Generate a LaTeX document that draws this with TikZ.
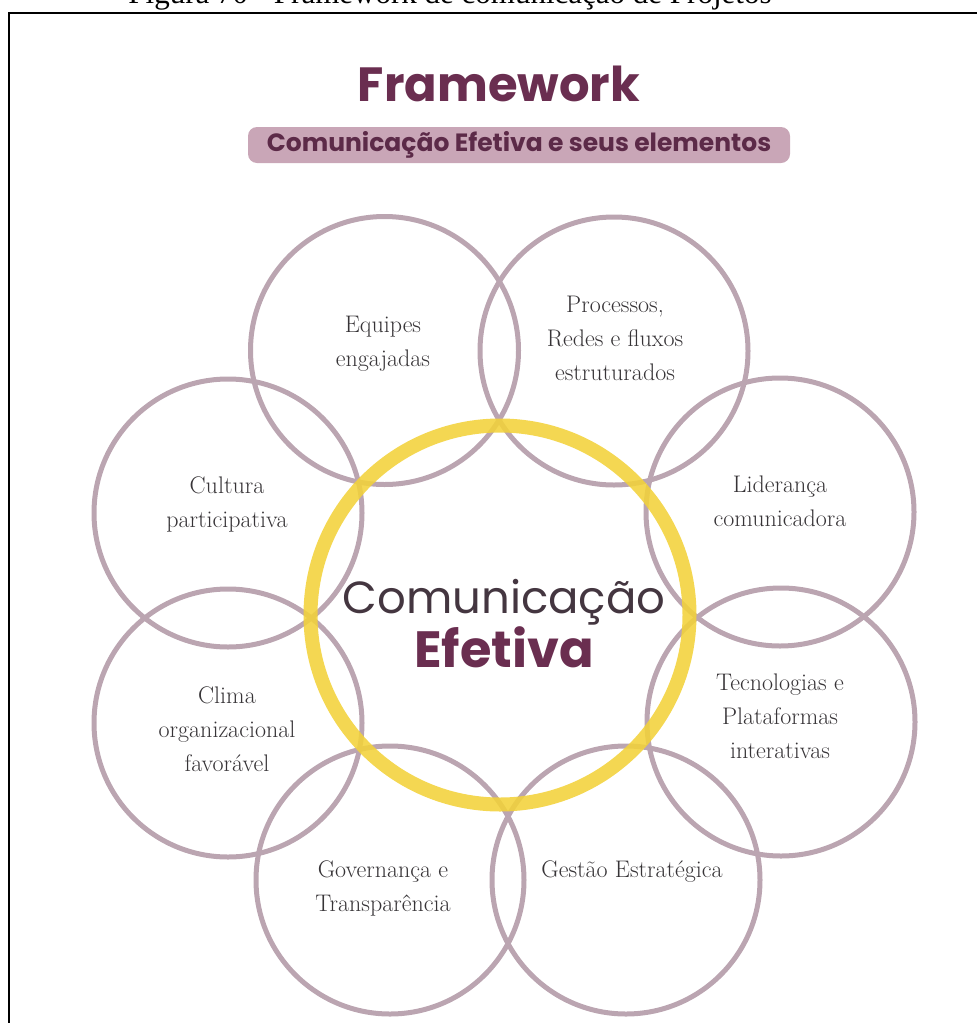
\documentclass[tikz,border=0pt]{standalone}
\usepackage{fontspec}
\newfontfamily\pop{Poppins}
\newfontfamily\capfont{Liberation Serif}
\definecolor{plum}{RGB}{106,46,80}
\definecolor{boxtxt}{RGB}{92,42,72}
\definecolor{ringc}{RGB}{187,165,177}
\definecolor{goldc}{RGB}{242,210,58}
\definecolor{boxc}{RGB}{201,166,183}
\definecolor{txtc}{RGB}{55,52,55}
\definecolor{comc}{RGB}{68,54,64}
\newcommand{\lines}[1]{\begin{tabular}[t]{@{}c@{}}#1\end{tabular}}
\begin{document}
\begin{tikzpicture}[x=1pt,y=-1pt,
  ring/.style={circle, draw=ringc, line width=5pt, minimum size=268pt, inner sep=0pt},
  lbl/.style={anchor=base, inner sep=0pt, text=txtc, font=\fontsize{24}{34}\selectfont},
]
\useasboundingbox (0,0) rectangle (977,1023);
\clip (0,0) rectangle (977,1023);
% caption (cut at the top)
\node[anchor=base, inner sep=0pt, font=\capfont\fontsize{31}{31}\selectfont] (cap) at (450,3) {Figura 70 - Framework de comunicação de Projetos};
% frame
\draw[line width=2pt] (9,1040) -- (9,12.5) -- (995,12.5);
% title
\node[anchor=base, inner sep=0pt, text=plum, font=\pop\bfseries\fontsize{48}{48}\selectfont] (title) at (499,101) {Framework};
\node[fill=boxc, rounded corners=9pt, minimum width=542pt, minimum height=36pt, inner sep=0pt,
      text=boxtxt, font=\pop\bfseries\fontsize{25}{25}\selectfont] (sub) at (519,145) {Comunicação Efetiva e seus elementos};
% outer circles
\node[ring] (c1) at (384.5,350.5) {};
\node[ring] (c2) at (614,351) {};
\node[ring] (c3) at (780,512) {};
\node[ring] (c4) at (781,722) {};
\node[ring] (c5) at (626,880) {};
\node[ring] (c6) at (390,880) {};
\node[ring] (c7) at (228,723) {};
\node[ring] (c8) at (228,513) {};
% central ring
\node[circle, draw=goldc, draw opacity=0.88, line width=14pt, minimum size=379pt, inner sep=0pt] (core) at (500,615) {};
% central text
\node[anchor=base, inner sep=0pt, text=comc, font=\pop\fontsize{45}{45}\selectfont] (com) at (504,613) {Comunicação};
\node[anchor=base, inner sep=0pt, text=plum, font=\pop\bfseries\fontsize{51}{51}\selectfont] (efe) at (504,667) {Efetiva};
% labels
\node[lbl] (t1) at (383,332) {\lines{Equipes\\engajadas}};
\node[lbl] (t2) at (615,312) {\lines{Processos,\\Redes e fluxos\\estruturados}};
\node[lbl] (t3) at (780,492) {\lines{Liderança\\comunicadora}};
\node[lbl] (t4) at (780,690) {\lines{Tecnologias e\\Plataformas\\interativas}};
\node[lbl] (t5) at (632,877) {Gestão Estratégica};
\node[lbl] (t6) at (383,877) {\lines{Governança e\\Transparência}};
\node[lbl] (t7) at (227,703) {\lines{Clima\\organizacional\\favorável}};
\node[lbl] (t8) at (227,493) {\lines{Cultura\\participativa}};
\end{tikzpicture}
\end{document}
